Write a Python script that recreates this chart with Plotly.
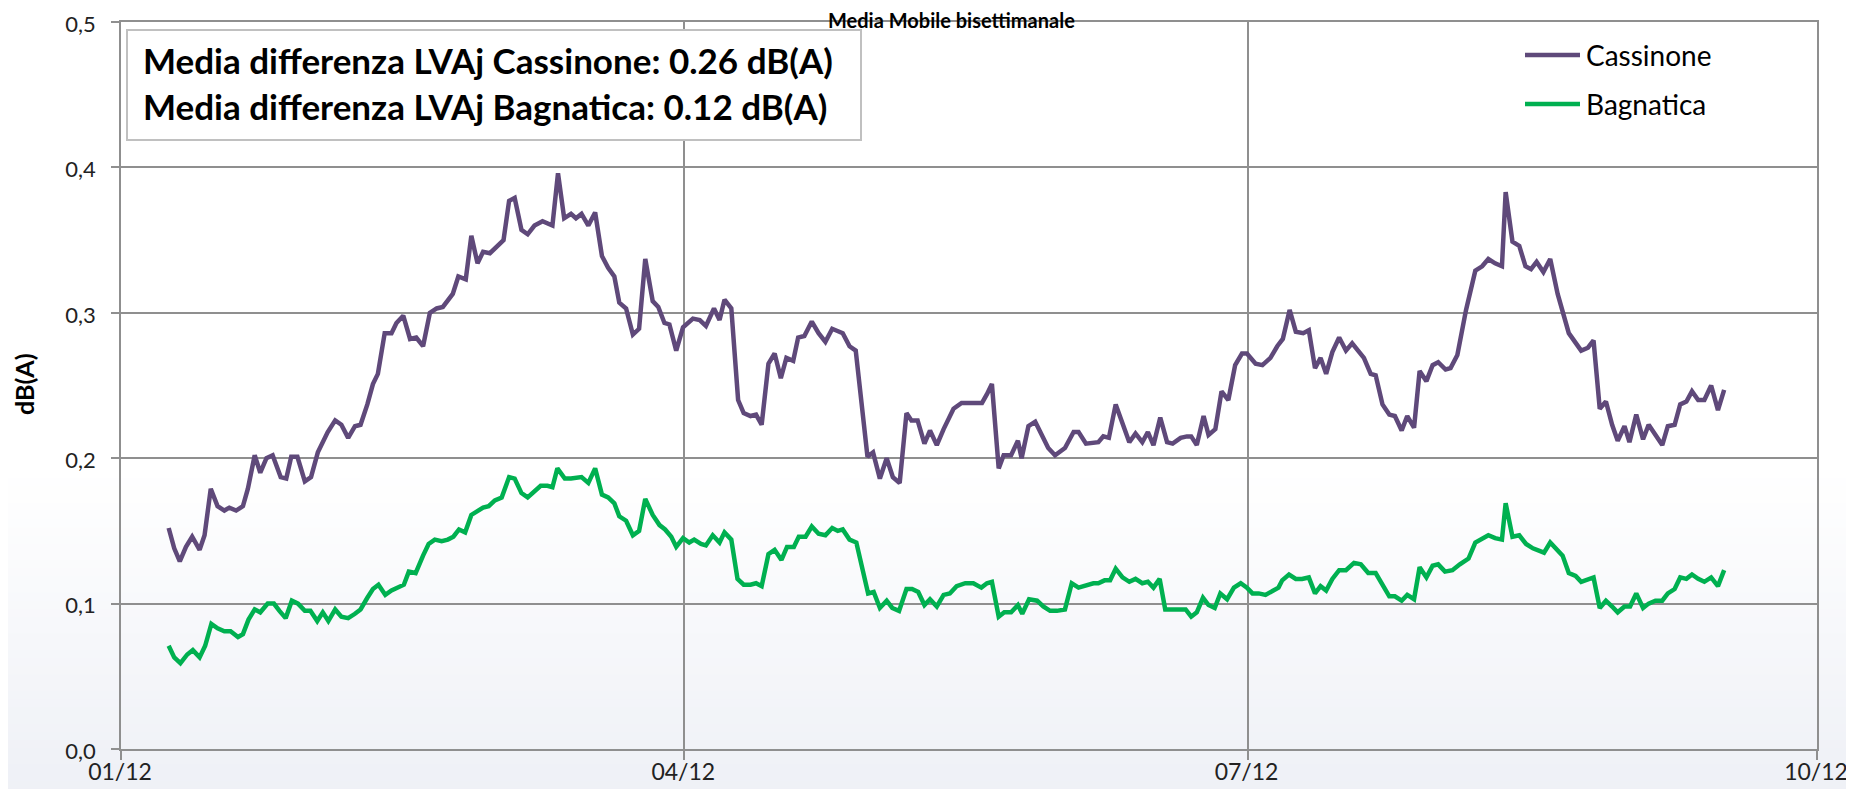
import datetime as dt
import plotly.graph_objects as go

# ---------------- data ----------------
start_date = "2012-01-01"           # day 0 of the day offsets below
x_tick_dates = ["2012-01-01", "2012-04-01", "2012-07-01", "2012-10-01"]
x_tick_labels = ["01/12", "04/12", "07/12", "10/12"]
y_tick_values = [0.0, 0.1, 0.2, 0.3, 0.4, 0.5]

series_names = ["Cassinone", "Bagnatica"]

cass_days = [7.7, 8.6, 9.5, 10.5, 11.5, 12.7, 13.5, 14.5, 15.6, 16.7,
             17.5, 18.6, 19.7, 20.5, 21.6, 22.5, 23.5, 24.5, 25.8, 26.7,
             27.5, 28.5, 29.7, 30.7, 31.8, 33.4, 34.6, 35.6, 36.7, 37.8,
             38.7, 39.8, 40.7, 41.5, 42.6, 43.7, 44.5, 45.6, 46.7, 47.7,
             48.8, 49.9, 51.0, 52.0, 53.6, 54.5, 55.7, 56.6, 57.6, 58.5,
             59.6, 60.7, 61.8, 62.7, 63.6, 64.7,
             65.7, 66.8, 68.1, 69.7, 70.6, 71.6, 72.7, 73.5, 74.4, 75.5,
             76.6, 77.7, 78.7, 79.7, 80.5, 81.6, 82.7, 83.7, 84.7, 85.9,
             86.8, 87.8, 88.6, 89.7, 90.8, 92.4, 93.5, 94.5, 95.8, 96.7,
             97.5, 98.6, 99.7, 100.6, 101.7, 102.6, 103.5, 104.6, 105.6, 106.6,
             107.5, 108.6, 109.4, 110.4, 111.6, 112.7, 113.8, 114.9, 115.8, 116.6,
             117.7, 118.7, 120.6, 121.5, 122.6, 123.7, 124.7, 125.8, 126.9, 127.7,
             128.7, 129.8, 130.7,
             131.8, 132.9, 134.5, 135.8, 137.4, 139.1, 139.9, 140.7, 141.8, 142.6,
             143.8, 144.9, 145.5, 146.6, 147.7, 148.8, 149.8, 150.9, 152.5, 153.9,
             154.7, 155.9, 157.1, 157.9, 158.7, 159.6, 160.7, 161.8, 162.9, 163.9,
             165.0, 165.9, 166.8, 167.9, 169.0, 169.9, 171.2, 172.2, 172.9, 173.8,
             174.9, 175.7, 176.8, 177.8, 178.9, 180.0, 181.1, 181.9, 183.3, 184.4,
             185.7, 186.8, 187.7, 188.8, 189.8, 191.0, 191.9, 192.9, 193.8,
             194.7, 195.7, 196.8, 197.9, 198.9, 200.0, 200.8, 201.9, 202.7, 203.8,
             204.9, 205.8, 206.9, 207.8, 208.9, 209.8, 210.9, 211.9, 212.8, 214.0,
             214.8, 215.9, 217.3, 218.8, 219.9, 220.9, 222.0, 223.1, 223.7, 224.8,
             225.9, 226.9, 227.8, 228.7, 229.8, 230.9, 232.1, 233.9, 235.0, 235.9,
             237.0, 237.9, 238.9, 239.9, 240.9, 241.8, 242.9, 243.7, 244.8, 245.9,
             246.8, 247.9, 249.0, 249.9, 251.0, 251.9, 252.9, 253.8, 254.8, 255.8,
             256.9, 258.0, 259.0]

cass_vals = [0.152, 0.138, 0.129, 0.139, 0.146, 0.137, 0.147, 0.179, 0.167, 0.164,
             0.166, 0.164, 0.167, 0.179, 0.202, 0.190, 0.200, 0.202, 0.187, 0.186,
             0.201, 0.201, 0.184, 0.187, 0.204, 0.218, 0.226, 0.223, 0.214, 0.222,
             0.223, 0.237, 0.251, 0.258, 0.286, 0.286, 0.293, 0.298, 0.282, 0.283,
             0.277, 0.300, 0.303, 0.304, 0.313, 0.325, 0.323, 0.353, 0.334, 0.342,
             0.341, 0.345, 0.350, 0.377, 0.379, 0.357,
             0.354, 0.360, 0.363, 0.360, 0.396, 0.365, 0.368, 0.365, 0.368, 0.360,
             0.369, 0.339, 0.331, 0.325, 0.307, 0.303, 0.285, 0.289, 0.337, 0.308,
             0.304, 0.293, 0.292, 0.274, 0.290, 0.296, 0.295, 0.291, 0.303, 0.295,
             0.309, 0.303, 0.240, 0.231, 0.229, 0.230, 0.223, 0.265, 0.272, 0.255,
             0.269, 0.267, 0.283, 0.284, 0.294, 0.286, 0.280, 0.289, 0.287, 0.286,
             0.277, 0.274, 0.201, 0.204, 0.186, 0.200, 0.187, 0.183, 0.231, 0.226,
             0.226, 0.210, 0.219,
             0.209, 0.220, 0.234, 0.238, 0.238, 0.238, 0.244, 0.251, 0.193, 0.202,
             0.202, 0.212, 0.200, 0.222, 0.225, 0.216, 0.207, 0.202, 0.207, 0.218,
             0.218, 0.210, 0.211, 0.211, 0.215, 0.214, 0.237, 0.223, 0.211, 0.217,
             0.211, 0.218, 0.209, 0.228, 0.211, 0.210, 0.214, 0.215, 0.215, 0.209,
             0.229, 0.216, 0.220, 0.246, 0.240, 0.264, 0.272, 0.272, 0.265, 0.264,
             0.269, 0.277, 0.282, 0.302, 0.287, 0.286, 0.288, 0.262, 0.269,
             0.258, 0.273, 0.283, 0.274, 0.279, 0.273, 0.269, 0.258, 0.257, 0.237,
             0.230, 0.229, 0.219, 0.229, 0.221, 0.260, 0.253, 0.264, 0.266, 0.261,
             0.262, 0.271, 0.302, 0.329, 0.332, 0.337, 0.334, 0.332, 0.383, 0.349,
             0.346, 0.332, 0.330, 0.335, 0.328, 0.337, 0.313, 0.286, 0.280, 0.274,
             0.276, 0.281, 0.234, 0.239, 0.223, 0.212, 0.222, 0.211, 0.230, 0.213,
             0.223, 0.216, 0.209, 0.222, 0.223, 0.237, 0.239, 0.246, 0.240, 0.240,
             0.250, 0.233, 0.247]

bag_days = [7.7, 8.6, 9.6, 10.7, 11.6, 12.7, 13.6, 14.6, 15.6, 16.7,
            17.7, 18.9, 19.7, 20.6, 21.6, 22.5, 23.7, 24.7, 25.6, 26.6,
            27.6, 28.6, 29.7, 30.6, 31.7, 32.6, 33.5, 34.6, 35.6, 36.7,
            37.8, 38.7, 39.8, 40.7, 41.6, 42.7, 43.7, 44.7, 45.7, 46.5,
            47.6, 48.8, 49.7, 50.7, 51.8, 52.8, 53.7, 54.6, 55.6, 56.6,
            57.6, 58.5, 59.4, 60.4, 61.5, 62.7, 63.6, 64.7,
            65.7, 66.8, 67.8, 68.9, 69.7, 70.5, 71.7, 72.7, 74.4, 75.5,
            76.6, 77.7, 78.7, 79.7, 80.5, 81.6, 82.7, 83.7, 84.7, 85.9,
            87.0, 87.9, 88.9, 89.7, 90.8, 91.8, 92.6, 93.7, 94.5, 95.6,
            96.7, 97.5, 98.6, 99.6, 100.6, 101.7, 102.6, 103.5, 104.6, 105.6,
            106.7, 107.6, 108.7, 109.5, 110.6, 111.6, 112.7, 113.8, 114.9, 115.8,
            116.6, 117.7, 118.8, 120.7, 121.6, 122.6, 123.7, 124.6, 125.7, 126.9,
            127.8, 128.8, 129.8, 130.7,
            131.8, 132.9, 133.9, 135.0, 136.4, 137.7, 139.0, 139.9, 140.7, 141.8,
            142.7, 143.8, 144.9, 145.6, 146.7, 148.0, 149.0, 150.1, 151.2, 152.5,
            153.6, 154.7, 156.0, 157.1, 157.9, 158.9, 159.8, 160.7, 161.8, 162.9,
            163.9, 165.0, 165.9, 166.8, 167.8, 168.7, 169.9, 171.2, 172.0, 172.9,
            173.8, 174.8, 175.7, 176.7, 177.6, 178.7, 179.8, 180.9, 181.9, 182.8,
            183.8, 184.9, 186.0, 187.0, 187.6, 188.7, 189.8, 190.8, 191.9, 192.9,
            193.8,
            194.7, 195.7, 196.8, 197.9, 199.2, 200.3, 201.5, 202.7, 203.8, 204.9,
            205.8, 206.9, 207.8, 208.9, 209.8, 210.9, 211.9, 212.8, 213.9, 215.1,
            216.3, 217.7, 218.8, 219.9, 220.9, 222.0, 223.1, 223.7, 224.8, 225.9,
            227.0, 228.1, 229.1, 229.9, 230.9, 231.9, 232.9, 233.9, 235.0, 235.9,
            237.0, 237.9, 238.9, 239.9, 240.9, 241.8, 242.9, 243.8, 244.8, 245.9,
            246.8, 247.9, 249.0, 249.9, 251.0, 251.9, 252.9, 253.8, 254.8, 255.8,
            256.9, 258.0, 259.0]

bag_vals = [0.071, 0.063, 0.059, 0.065, 0.068, 0.063, 0.071, 0.086, 0.083, 0.081,
            0.081, 0.077, 0.079, 0.089, 0.096, 0.094, 0.100, 0.100, 0.095, 0.090,
            0.102, 0.100, 0.095, 0.095, 0.088, 0.094, 0.088, 0.096, 0.091, 0.090,
            0.093, 0.096, 0.104, 0.110, 0.113, 0.106, 0.109, 0.111, 0.113, 0.122,
            0.121, 0.133, 0.141, 0.144, 0.143, 0.144, 0.146, 0.151, 0.149, 0.161,
            0.164, 0.166, 0.167, 0.171, 0.173, 0.187, 0.186, 0.176,
            0.173, 0.177, 0.181, 0.181, 0.180, 0.193, 0.186, 0.186, 0.187, 0.183,
            0.193, 0.175, 0.173, 0.169, 0.160, 0.157, 0.147, 0.150, 0.172, 0.161,
            0.154, 0.151, 0.146, 0.139, 0.145, 0.142, 0.144, 0.141, 0.140, 0.147,
            0.142, 0.149, 0.144, 0.117, 0.113, 0.113, 0.114, 0.112, 0.134, 0.137,
            0.130, 0.139, 0.139, 0.146, 0.146, 0.153, 0.148, 0.147, 0.152, 0.150,
            0.151, 0.144, 0.142, 0.107, 0.108, 0.097, 0.102, 0.097, 0.095, 0.110,
            0.110, 0.108, 0.099, 0.103,
            0.098, 0.106, 0.107, 0.112, 0.114, 0.114, 0.111, 0.114, 0.115, 0.091,
            0.094, 0.094, 0.099, 0.093, 0.103, 0.102, 0.098, 0.095, 0.095, 0.096,
            0.114, 0.111, 0.113, 0.114, 0.114, 0.116, 0.116, 0.124, 0.118, 0.115,
            0.117, 0.114, 0.115, 0.111, 0.117, 0.096, 0.096, 0.096, 0.096, 0.091,
            0.094, 0.104, 0.099, 0.097, 0.107, 0.103, 0.111, 0.114, 0.111, 0.107,
            0.107, 0.106, 0.109, 0.111, 0.116, 0.120, 0.117, 0.117, 0.118, 0.107,
            0.112,
            0.109, 0.117, 0.123, 0.123, 0.128, 0.127, 0.121, 0.121, 0.113, 0.105,
            0.105, 0.102, 0.106, 0.103, 0.125, 0.118, 0.126, 0.127, 0.122, 0.123,
            0.127, 0.131, 0.142, 0.145, 0.147, 0.145, 0.144, 0.169, 0.146, 0.147,
            0.141, 0.138, 0.136, 0.135, 0.142, 0.138, 0.133, 0.121, 0.119, 0.115,
            0.117, 0.118, 0.097, 0.102, 0.098, 0.094, 0.098, 0.098, 0.107, 0.097,
            0.100, 0.102, 0.102, 0.107, 0.110, 0.118, 0.117, 0.120, 0.117, 0.115,
            0.118, 0.112, 0.123]

title_text = "Media Mobile bisettimanale"
y_title = "dB(A)"
box_lines = ["Media differenza LVAj Cassinone: 0.26 dB(A)",
             "Media differenza LVAj Bagnatica: 0.12 dB(A)"]

# ---------------- styling / layout ----------------
# page body keeps an 8px margin, so the figure is a bit smaller than the window
VW, VH = 1854, 797
OFF = 8
FW, FH = VW - 2 * OFF, VH - 2 * OFF
# plot-area edges in window pixels
L, R, T, B = 121, 1817, 22, 749
FONT = "Lato"
colors = {"Cassinone": "#5F497A", "Bagnatica": "#00B050"}
GRID = "#8f8f8f"


def px_x(p):
    return (p - L) / (R - L)


def px_y(p):
    return (B - p) / (B - T)


base = dt.datetime.fromisoformat(start_date)


def to_dates(days):
    return [base + dt.timedelta(days=d) for d in days]


fig = go.Figure()
for name, days, vals in [("Cassinone", cass_days, cass_vals),
                         ("Bagnatica", bag_days, bag_vals)]:
    fig.add_trace(go.Scatter(
        x=to_dates(days), y=vals, mode="lines", name=name,
        line=dict(color=colors[name], width=4.5),
        hoverinfo="skip", showlegend=False,
    ))

# background gradient (slide-like) in the lower part of the figure
shapes = []
g_top, g_bot = 470, VH
n_bands = 40
c0 = (255, 255, 255)
c1 = (238, 240, 246)
for i in range(n_bands):
    t = (i + 0.5) / n_bands
    col = tuple(round(c0[k] + (c1[k] - c0[k]) * t) for k in range(3))
    y_a = g_top + (g_bot - g_top) * i / n_bands
    y_b = g_top + (g_bot - g_top) * (i + 1) / n_bands + 1
    shapes.append(dict(type="rect", xref="paper", yref="paper",
                       x0=px_x(0), x1=px_x(VW), y0=px_y(y_b), y1=px_y(y_a),
                       fillcolor="rgb(%d,%d,%d)" % col, line=dict(width=0),
                       layer="below"))

# annotation box
shapes.append(dict(type="rect", xref="paper", yref="paper",
                   x0=px_x(127), x1=px_x(861), y0=px_y(140), y1=px_y(30),
                   fillcolor="white", line=dict(color="#c0c0c0", width=2),
                   layer="above"))

annotations = [
    dict(text="<b>%s</b>" % box_lines[0], xref="paper", yref="paper",
         x=px_x(141), y=px_y(60), xanchor="left", yanchor="middle",
         showarrow=False, font=dict(family=FONT, size=35, color="#000000")),
    dict(text="<b>%s</b>" % box_lines[1], xref="paper", yref="paper",
         x=px_x(141), y=px_y(106), xanchor="left", yanchor="middle",
         showarrow=False, font=dict(family=FONT, size=35, color="#000000")),
    dict(text="<b>%s</b>" % title_text, xref="paper", yref="paper",
         x=px_x(951), y=px_y(20), xanchor="center", yanchor="middle",
         showarrow=False, font=dict(family=FONT, size=20, color="#000000")),
    dict(text="<b>%s</b>" % y_title, xref="paper", yref="paper",
         x=px_x(24), y=px_y(384), xanchor="center", yanchor="middle",
         textangle=-90, showarrow=False,
         font=dict(family=FONT, size=25, color="#000000")),
]

# legend drawn as keys + labels (one per series)
legend_rows = [("Cassinone", 55), ("Bagnatica", 104)]
for name, ly in legend_rows:
    shapes.append(dict(type="line", xref="paper", yref="paper",
                       x0=px_x(1525), x1=px_x(1580), y0=px_y(ly), y1=px_y(ly),
                       line=dict(color=colors[name], width=4.5), layer="above"))
    annotations.append(dict(text=name, xref="paper", yref="paper",
                            x=px_x(1584), y=px_y(ly), xanchor="left",
                            yanchor="middle", showarrow=False,
                            font=dict(family=FONT, size=28, color="#000000")))

fig.update_layout(
    width=FW, height=FH,
    margin=dict(l=L - OFF, r=FW - (R - OFF), t=T - OFF, b=FH - (B - OFF),
                autoexpand=False),
    paper_bgcolor="white",
    plot_bgcolor="rgba(0,0,0,0)",
    separators=",.",
    font=dict(family=FONT, color="#000000"),
    showlegend=False,
    shapes=shapes,
    annotations=annotations,
    xaxis=dict(
        type="date", automargin=False,
        range=[x_tick_dates[0], x_tick_dates[-1]],
        tickmode="array", tickvals=x_tick_dates, ticktext=x_tick_labels,
        showgrid=True, gridcolor=GRID, gridwidth=1.5,
        showline=True, linecolor=GRID, linewidth=1.5, mirror=True,
        ticks="outside", ticklen=9, tickcolor=GRID, tickwidth=1.5,
        ticklabelstandoff=-7, ticklabelshift=-1, ticklabeloverflow="allow",
        tickfont=dict(family=FONT, size=23, color="#222222"),
        zeroline=False,
    ),
    yaxis=dict(
        range=[0, 0.5], automargin=False,
        tickmode="array", tickvals=y_tick_values, tickformat=".1f",
        showgrid=True, gridcolor=GRID, gridwidth=1.5,
        showline=True, linecolor=GRID, linewidth=1.5, mirror=True,
        ticks="outside", ticklen=8, tickcolor=GRID, tickwidth=1.5,
        ticklabelstandoff=11, ticklabelshift=2, ticklabeloverflow="allow",
        tickfont=dict(family=FONT, size=22, color="#222222"),
        zeroline=False,
    ),
)

fig.write_html("out.html")
